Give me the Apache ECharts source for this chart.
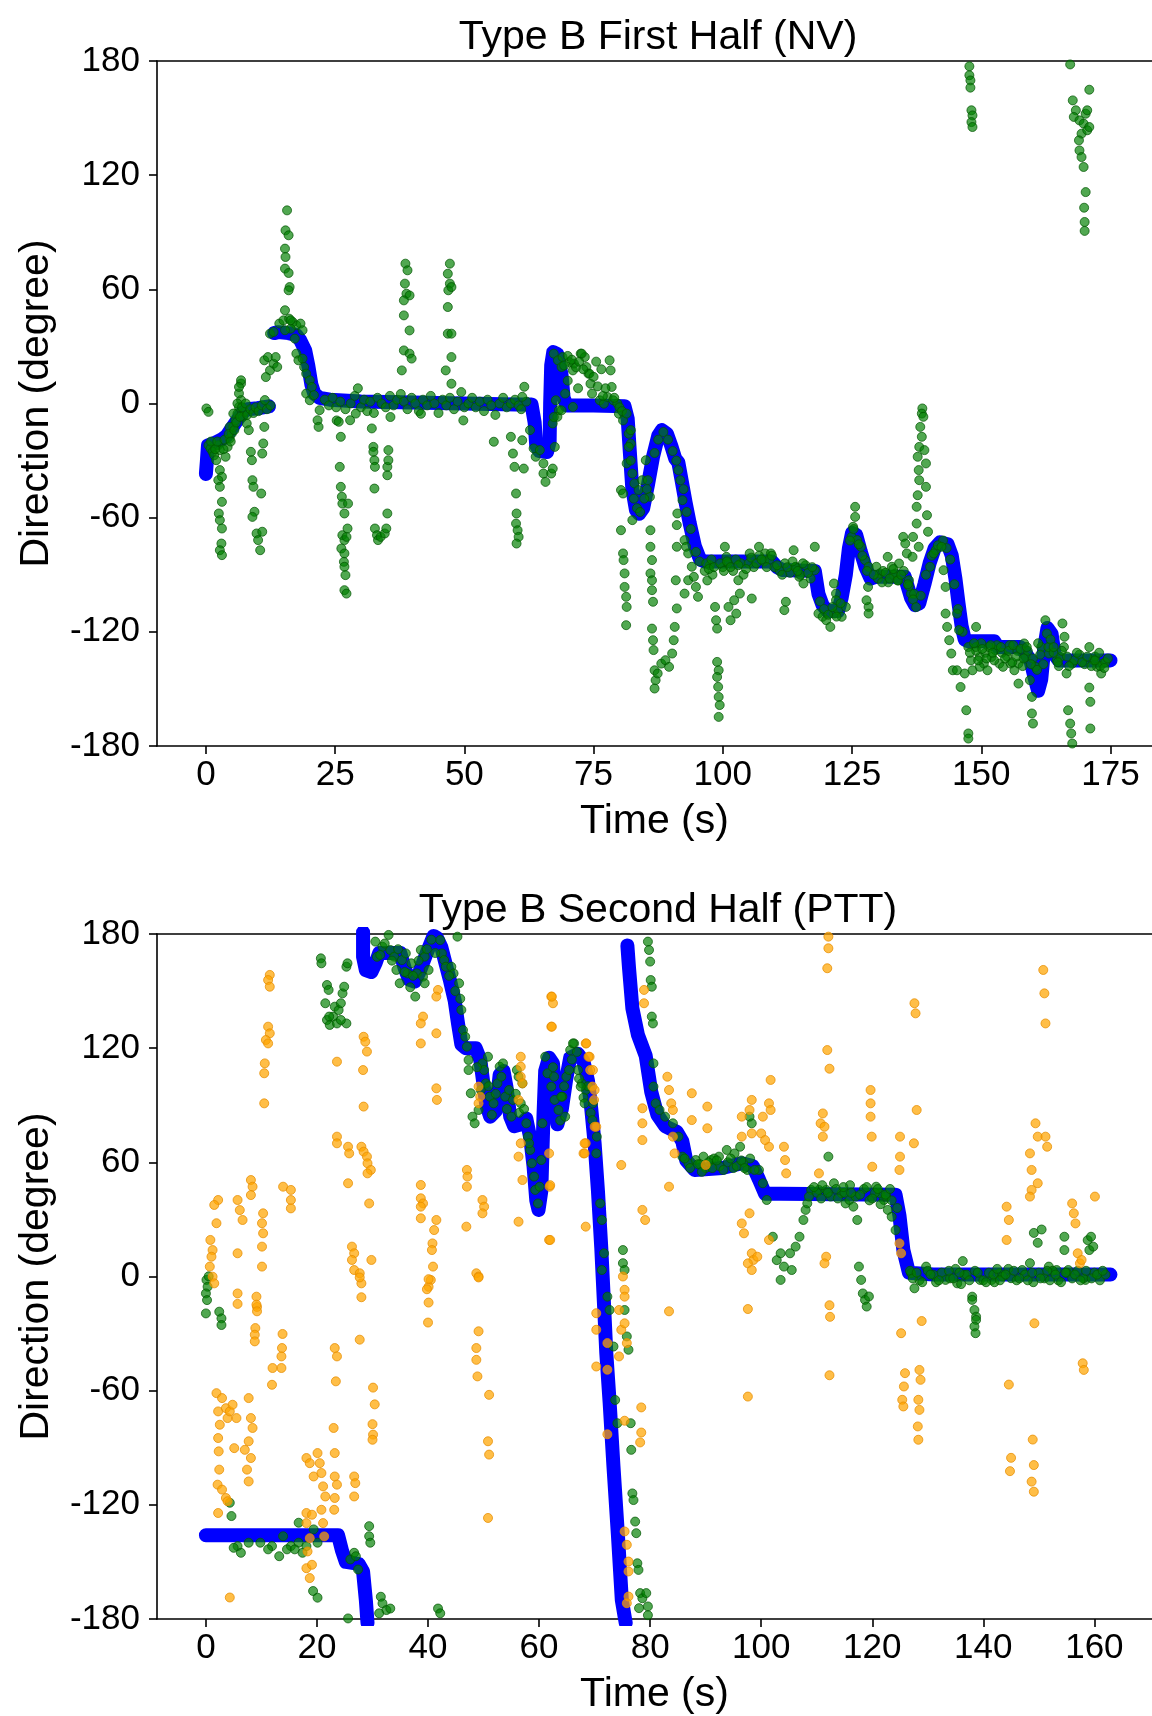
<!DOCTYPE html>
<html>
<head>
<meta charset="utf-8">
<title>Type B Direction</title>
<script src="https://cdn.jsdelivr.net/npm/echarts@6/dist/echarts.min.js"></script>
<style>
  html, body { margin: 0; padding: 0; background: #fff; }
  #chart { width: 1152px; height: 1716px; }
</style>
</head>
<body>
<div id="chart"></div>
<script>
// tick labels
var nvTicks = [0, 25, 50, 75, 100, 125, 150, 175];
var pttTicks = [0, 20, 40, 60, 80, 100, 120, 140, 160];

// blue reference track, first half (segments break where it jumps)
var nvBlue = [
  [[0,-37],[0.2,-30],[0.4,-22],[1.5,-21],[3,-19],[4,-17],[5,-13],[6,-9],[7,-5],[8,-3],[10,-2.5],[12.2,-1.5]],
  [[13.2,37],[14,37.5],[16,37],[17.5,36],[18.3,33],[19.2,28],[19.8,20],[20.4,10],[21,5],[22,3],[24,2],[30,1],[40,0.5],[50,0],[60,-0.5],[63,-0.5],
   [63.6,-10],[63.9,-22],[64.5,-25],[66,-25.5],[66.5,-20],[66.6,0],[66.8,20],[67.2,27],[68,26],[68.8,15],[69.2,3],[69.8,-1],[75,-1],[81,-1.5],
   [81.6,-8],[82,-25],[82.5,-45],[83.2,-56],[83.8,-58],[84.6,-55],[85.5,-43],[86.5,-28],[87.5,-17],[88.2,-14],[89.2,-16],[90,-22],[90.8,-29],[91.4,-31],
   [92,-40],[92.8,-52],[93.6,-63],[94.6,-75],[95.6,-82],[96.5,-83],[103,-83],[109.5,-83],[110.5,-86],[111.5,-87.5],[117.8,-88],
   [118.5,-100],[119.3,-106],[120.2,-109],[122.3,-109],[123,-102],[123.8,-90],[124.4,-76],[125,-68],[125.8,-69],[126.7,-78],[127.6,-86],[128.6,-92],
   [129.7,-91],[135.2,-91],[136.4,-102],[137.2,-106],[138,-105],[139,-95],[140,-84],[141,-76],[142,-73],[143.5,-74],[144.3,-80],[145,-92],
   [145.6,-105],[146.2,-117],[146.8,-124],[147.5,-125],[152.5,-125],[153.2,-128],[157.5,-128],[158.5,-131],[159.5,-135],[160.4,-145],[161,-151],
   [161.6,-145],[162.2,-128],[162.8,-118],[163.6,-121],[164.2,-132],[165,-135],[175,-135]]
];

// green estimates, first half
var nvGreen = [
  [0.1,-2.6],[0.5,-4.4],[0.5,-21.9],[0.9,-23.7],[1.3,-25.4],[1.6,-27.2],[2.0,-29.8],[2.4,-21.9],[2.7,-24.5],
  [2.7,-35],[3.1,-38.5],[2.4,-40.3],[2.7,-43.8],[3.1,-51.7],[2.5,-57.8],[2.7,-61.3],[3.1,-65.7],[3.0,-73.6],[2.7,-77.1],[3.1,-79.7],
  [3.8,-28],[4.2,-22.8],[4.6,-18.4],[5.0,-15.8],[5.3,-12.3],[5.7,-8.8],[6.1,-5.3],[6.4,-1.8],[6.8,1.8],[6.4,5.3],[7.2,-7],[7.5,-4.4],
  [7.9,-10.5],[8.3,-14],[4.6,-12.3],[5.3,-5.3],[6.1,0],[6.8,10.5],[6.8,12.2],[6.4,8.7],
  [1,-20],[1.8,-24],[2.2,-20],[3.4,-24],[3.6,-19],[4.4,-16],[4.8,-20],[5.5,-14],[5.9,-10],[6.6,-7],[7,-2],[7.7,0],[8,-6],[8.6,-3],
  [9.2,-5],[9.6,-2],[10.2,-4],[10.8,-1],[11.8,-3],[12.5,-1],
  [8.7,-25.4],[8.9,-29.8],[9.0,-40.3],[9.2,-43.8],[9.4,-56.9],[9.0,-59.6],[9.8,-68.3],[10.1,-71.8],[10.5,-77.1],[10.9,-67.4],[10.7,-47.3],
  [10.9,-26.3],[11.1,-21],[11.3,-12.3],[11.4,1.8],
  [11.3,22.7],[12.0,24.4],[12.4,17.4],[13.1,20.9],[13.5,24.4],[13.8,19.2],[11.6,13.9],
  [12.4,36.7],[13.1,37.6],[14.2,42],[15.0,43.7],[16.1,44.6],[16.8,42.8],[17.5,41.1],[18.3,42],[18.7,38.5],[16.4,39.3],[15.3,38.5],
  [15.7,101.5],[15.4,91],[16.0,88.4],[15.3,81.4],[15.4,77],[15.3,70.9],[16.0,68.6],[16.2,61.2],[16.0,59.5],[15.3,49],[16.4,43.7],
  [17.2,34.1],[17.5,26.2],[17.9,22.7],[18.7,23.6],[19.0,19.2],[19.4,15.7],[20.1,12.2],[20.5,8.7],[19.4,5.2],[20.1,1.7],[20.9,4.4],
  [21.6,-8.8],[21.8,-12.3],[22.0,-3.5],
  [23,2],[23.8,-1],[24.5,3],[25.2,-2],[26,1],[27,-3],[28,0],[28.8,4],[29.4,8],[30,-2],[30.6,2],[31.2,-4],[31.8,1],[32.5,-5],[33.2,3],
  [34,0],[34.8,-2],[35.6,4],[36.3,-1],[37,2],[37.7,5],[38.3,1],[39,-3],[39.8,3],[40.5,0],[41.2,-4],[42,2],[42.8,-1],[43.5,4],[44.2,0],
  [45,-5],[45.8,2],[46.5,-1],[47.2,3],[48,-3],[48.7,1],[49.4,6],[50,-2],[50.8,0],[51.5,3],[52.2,-2],[53,1],[53.8,-4],[54.5,2],[55.2,-1],
  [56,-6],[56.8,0],[57.5,3],[58.2,-2],[59,0],[59.8,2],[60.5,-1],[61,-3],[62,1],
  [49.8,-8.9],[41.6,-5.4],[35.7,-7.1],[25.3,-8.9],
  [25.7,-9.6],[26.1,-17.5],[25.9,-33.3],[26.1,-43.8],[26.3,-49],[26.4,-52.6],[26.8,-57.8],[26.4,-69.2],[26.8,-71.8],[26.2,-76.2],
  [26.8,-78.8],[26.7,-83.2],[26.8,-85.8],[27.0,-90.2],[26.8,-98.1],[27.2,-99.9],[27.2,-70.1],[27.4,-65.7],[27.5,-52.6],[27.9,-8.8],[29.0,-5.3],
  [32.1,-13.1],[32.4,-22.8],[32.4,-25.4],[32.6,-29.8],[32.7,-33.3],[32.6,-44.7],[32.7,-65.7],[33.1,-69.2],[33.3,-71.8],[33.8,-70.1],
  [34.6,-68.3],[34.9,-65.7],[35.1,-57.8],[35.1,-37.7],[35.1,-33.3],[35.3,-29.8],[35.3,-24.5],
  [38.6,73.5],[39.0,70],[38.5,63],[38.8,57.7],[39.4,56.8],[38.3,54.2],[38.3,46.3],[39.4,38.4],[38.3,27.9],[39.4,26.2],[39.8,23.6],[37.9,17.4],
  [47.2,73.5],[46.8,68.2],[47.2,63],[46.9,59.5],[47.5,61.2],[46.8,50.7],[46.8,36.7],[47.5,36.7],[47.5,24.4],[46.4,17.4],[47.5,10.4],
  [55.7,-20.1],[59.0,-17.5],[59.4,-26.3],[59.7,-33.3],[60.0,-47.3],[60.1,-57.8],[60.0,-63.1],[60.3,-66.6],[60.5,-70.1],[60.1,-73.6],
  [61.2,-19.3],[61.5,-34.2],[61.6,8.8],[61.2,3.5],[62.7,-14],[63.4,-23.6],[63.8,-28],[64.6,-24.5],[65.3,-31.5],[65.3,-36.8],[65.7,-41.2],
  [66.8,-36.8],[67.1,-34.2],[67.5,-22.8],[67.1,-10.5],[68.3,-3.5],[68.0,-7],
  [67.3,26.2],[68.1,22.7],[68.8,19.2],[70.3,21.8],[71.0,17.4],[72.5,26.2],[73.3,24.4],[73.6,19.2],[74.0,15.7],[74.4,10.4],[74.7,5.2],
  [71.0,-1.8],[69.5,5.2],[76.2,1.7],[77.0,-0.1],[77.7,3.4],[78.1,22.7],[78.3,17.4],[78.5,8.7],[78.8,1.7],[79.6,0],[79.9,-5.4],[80.7,-8.9],
  [81.8,-15.9],[82.2,-21.1],[67.7,1.7],[67.3,-7.1],[68.8,-3.6],[69.0,24.4],[71.2,21],[72.7,26.2],[74.2,15.7],[75.5,22],[76.5,18],[70,12],[72,8],
  [69.3,20],[70,25],[70.8,23],[71.6,19],[72.2,22],[73,18],[75,14],[75.8,9],[76.8,4],[77.3,8],[79,3],[80,-2],[80.5,-4],
  [80.3,-45.5],[80.7,-47.3],[80.3,-66.6],[80.7,-78.8],[80.8,-82.3],[81.0,-89.3],[81.0,-96.4],[81.3,-101.6],[81.4,-106.9],[81.3,-116.5],
  [81.4,-31.5],[81.8,-22.8],[82.2,-14],[81.4,-5.3],[82.5,-36.8],[82.9,-42],[82.5,-61.3],[83.7,-45.5],[84.4,-40.3],[85.1,-29.8],[85.5,-40.3],
  [85.9,-49],[86.0,-66.6],[86.0,-75.3],[86.3,-82.3],[86.0,-89.3],[86.3,-92.9],[86.3,-98.1],[86.5,-104.2],[86.3,-118.3],[86.5,-124.4],
  [86.6,-129.6],[86.8,-140.2],[87.0,-145.4],[86.8,-149.8],[87.4,-141.9],[88.1,-136.7],[88.9,-134.9],[89.6,-138.4],[90.2,-131.4],[90.5,-124.4],
  [90.7,-117.4],[91.1,-107.7],[90.9,-92.9],[91.1,-75.3],[91.1,-63.9],[91.2,-57.8],[91.4,-35],[91.8,-40.3],[92.2,-50.8],[92.6,-71.8],
  [92.9,-75.3],[93.3,-78.8],[92.6,-99.9],[93.3,-92.9],[94.0,-85.8],[94.4,-91.1],[94.8,-96.4],[95.2,-101.6],
  [82.2,-30],[82.8,-50],[83.4,-55],[84,-57],[84.8,-50],[85.3,-45],[86.8,-26],[87.5,-19],[88.5,-15],[89.4,-19],[90.3,-25],[91,-30],
  [92.4,-45],[93,-57],[93.8,-66],[94.8,-78],[95.5,-83],
  [98.5,-106.9],[98.7,-113.9],[98.9,-118.3],[98.9,-135.8],[99.2,-140.2],[98.9,-143.7],[99.1,-148.9],[99.2,-154.2],[99.4,-158.5],[99.2,-164.7],
  [100.4,-75.3],[100.7,-80.6],[101.1,-106.9],[101.5,-113.9],[102.2,-103.4],[102.6,-110.4],[103.0,-92.9],[103.3,-99.9],[105.2,-78.8],
  [105.6,-102.5],[107.0,-75.3],[108.2,-78.8],[109.3,-78.8],[111.9,-108.6],[112.2,-104.2],[113.7,-77.1],[114.1,-85.8],[114.8,-91.1],
  [115.6,-94.6],[117.8,-75.3],[117.8,-87.6],
  [96.5,-88],[97,-93],[97.5,-85],[98,-90],[100,-86],[101,-84],[102,-88],[103.5,-84],[104,-90],[105,-84],[106,-86],[107,-80],[108,-83],
  [109,-82],[110,-86],[111,-88],[112,-84],[113,-89],[114,-86],[115,-90],[116,-85],[117,-92],
  [96.8,-84],[97.3,-87],[97.8,-82],[98.3,-86],[99.5,-84],[100.2,-88],[100.8,-83],[101.5,-86],[102.5,-82],[103,-85],[104.5,-87],[105.5,-81],
  [106.5,-84],[107.5,-82],[108.5,-86],[109.5,-80],[110.5,-85],[111.5,-90],[112.5,-86],[113.5,-83],[114.5,-88],[115.5,-84],[116.5,-89],[117.3,-86],
  [118.5,-110.4],[119.3,-112.1],[120.0,-113.9],[120.8,-117.4],[121.5,-110.4],[122.3,-108.6],[123.0,-112.1],[121.5,-94.6],[121.9,-99.9],
  [121.9,-103.4],[123.8,-106.9],
  [118.8,-104],[119.6,-108],[120.4,-111],[121.2,-107],[122,-112],[122.8,-105],
  [125.6,-54.3],[125.6,-59.6],[125.2,-64.8],[124.9,-70.1],[126.0,-71.8],[126.7,-75.3],[127.5,-82.3],[128.2,-85.8],[128.1,-96.4],
  [128.2,-106.9],[128.2,-110.4],[127.8,-103.4],
  [124.6,-72],[125.3,-66],[126.3,-74],[127,-80],[127.9,-88],
  [129.7,-85.8],[130.4,-89.3],[131.9,-80.6],[132.7,-85.8],[133.4,-89.3],[134.1,-84.1],[134.9,-70.1],[135.3,-73.6],[135.6,-78.8],
  [136.0,-92.9],[136.4,-99.9],[136.7,-80.6],
  [130,-92],[131,-88],[132,-94],[133,-90],[134,-93],[135,-88],[136,-96],[137,-100],
  [129.2,-90],[130.8,-94],[131.5,-89],[132.3,-92],[133,-87],[133.8,-93],[134.5,-90],[135.8,-95],[136.8,-103],[137.4,-107],[138.3,-101],
  [139.3,-90],[140.4,-80],[141.2,-77],[142.6,-72],[143.3,-76],[144,-82],[144.8,-95],[145.5,-108],[146.4,-120],
  [138.6,-2.6],[138.5,-5.3],[138.8,-7],[138.2,-12.3],[138.5,-17.5],[138.0,-22.8],[139.0,-24.5],[137.7,-28],[139.3,-31.5],[137.9,-35],
  [138.0,-40.3],[139.3,-43.8],[137.7,-48.2],[137.5,-54.3],[139.5,-58.7],[137.5,-63.1],[139.7,-67.4],[136.8,-70.1],[137.9,-75.3],
  [140.1,-85.8],[140.8,-78.8],[141.6,-74.5],[142.3,-75.3],[142.7,-87.6],[143.1,-96.4],[143.1,-110.4],[143.4,-117.4],[143.8,-124.4],
  [144.2,-131.4],[144.5,-140.2],[145.3,-110.4],[145.7,-119.1],
  [147.1,-161.2],[147.5,-173.4],[147.5,-176.1],[149.0,-117.4],[149.0,-128],[149.7,-133.2],[150.5,-136.7],[151.2,-140.2],[152.0,-133.2],
  [152.7,-129.6],[153.5,-136.7],[154.2,-138.4],[155.7,-136.7],[156.4,-140.2],[157.2,-147.2],[157.2,-136.7],[158.3,-126.1],[158.6,-133.2],
  [159.4,-145.4],[159.8,-154.2],[159.8,-162.9],[160.0,-168.2],[160.5,-138.4],[161.6,-128],[162.4,-113.9],[162.7,-120.9],[163.1,-131.4],
  [164.6,-134.9],[165.3,-133.2],[165.7,-115.6],[166.1,-122.6],[166.5,-141.9],[166.8,-161.2],[167.2,-168.2],[167.4,-173.4],[167.6,-178.7],
  [167.6,-136.7],[170.9,-128],[170.9,-149.3],[171.1,-156.8],[171.1,-170.8],[171.7,-134.9],[172.4,-138.4],[173.2,-141.9],[173.5,-136.7],
  [149.7,-138.4],[148.3,-140.2],[145.3,-140.2],[146.0,-149],[146.8,-141.9],
  [147.5,-128],[148,-135],[149,-130],[150,-126],[150.8,-131],[151.5,-128],[152.5,-135],[153,-127],[154,-131],[155,-133],[155.5,-127],
  [156,-136],[157,-130],[158,-138],[159,-130],[160,-134],[161,-126],[162,-137],[163,-128],[164,-131],[165,-138],[166,-128],[168,-135],
  [169,-132],[170,-137],[172,-133],[173,-138],[174,-136],
  [147.8,-131],[148.6,-126],[149.4,-135],[150.2,-129],[151,-134],[151.8,-127],[152.2,-131],[153.8,-128],[154.6,-134],[155.3,-130],
  [156.2,-127],[156.8,-133],[157.6,-129],[158.2,-134],[158.8,-128],[159.6,-137],[160.8,-140],[161.4,-132],[163.4,-124],[164,-128],
  [164.8,-136],[165.6,-130],[166.6,-133],[167,-138],[168.5,-131],[169.5,-136],[170.5,-133],[171.3,-138],[172,-135],[172.8,-131],
  [173.8,-139],[174.5,-134],
  [147.7,177.2],[147.7,172.5],[147.9,169.8],[147.9,166],[148.1,154.1],[148.3,151.4],[148.1,147.9],[148.3,145.3],
  [167.2,178.2],[170.9,164.9],[167.7,159.3],[168.3,154.1],[167.9,150.6],[169.0,148.8],[170.2,152.3],[170.5,154.1],[169.8,147.1],
  [169.4,141.8],[168.9,138.3],[170.5,143.6],[170.9,145.3],[169.0,133],[169.4,129.5],[169.8,124.3],[170.2,111.1],[169.9,102.9],
  [170.0,95.4],[170.0,90.7]
];

// blue reference track, second half
var pttBlue = [
  [[0,-136],[23.8,-136],[24.5,-144],[25.2,-150],[27.5,-151],[28.3,-155],[28.8,-170],[29.1,-182]],
  [[28.3,181],[28.3,168],[28.8,161],[29.8,160],[30.6,165],[31.2,170],[35,170],[35.8,162],[36.6,156],[37.6,155],[38.6,161],[39.5,168],
   [40.3,174],[41,179],[41.6,178],[42.4,173],[43.2,164],[44,155],[44.8,145],[45.4,133],[46,122],[46.8,120],[48.6,120],[49.4,114],
   [49.9,103],[50.5,90],[51.2,84],[52.2,87],[52.9,106],[53.6,108],[54.1,100],[54.8,84],[55.5,79],[56.8,80],[57.7,83],[58.4,73],[59,58],
   [59.5,40],[59.9,35],[60.4,45],[60.8,85],[61.1,108],[61.8,115],[62.5,112],[62.9,92],[63.3,80],[64.1,88],[64.9,104],[65.6,115],[67,117],
   [68,113],[68.8,103],[69.4,88],[70,70],[70.6,45],[71.2,15],[71.7,-15],[72.1,-40],[72.7,-66],[73.4,-100],[74.2,-136],[74.9,-170],[75.6,-182]],
  [[75.9,174],[76.2,162],[76.8,141],[77.8,127],[79.2,116],[80.2,97],[81.3,85],[82.7,79],[84.8,76],[85.8,71],[86.5,61],[88,56],[93,57],
   [96.5,59.5],[98.5,58],[99.6,51],[100.7,43.5],[103.5,43.5],[124.2,43],[124.9,32],[125.6,14],[126.6,2],[131,1],[162.9,1]]
];

// green estimates, second half
var pttGreen = [
  [0.1,-1.8],[0.3,-5.4],[0,-8.9],[0.5,0.1],[0.2,-12.4],[0,-19.4],[2.4,-18.5],[2.8,-22],[2.8,-25.5],
  [20.7,167.2],[20.8,164.6],[21.8,153.2],[22.1,150.6],[21.5,143.6],[21.8,134.8],[22.3,132.2],[22.9,136.6],[23.2,141.8],[23.6,133],
  [23.9,140],[24.3,143.6],[24.6,148.8],[24.9,152.3],[25.3,133],[25.3,162.8],[25.5,164.6],[22.2,136.6],[24.3,134.8],
  [30.5,176],[30.8,168],[31.8,173.3],[32.9,179.5],[33.2,171.6],[33.9,168.1],[34.3,161.1],[34.9,154.1],[35.3,166.3],[36.0,169.8],
  [36.3,159.3],[37.0,164.6],[37.7,147.1],[38.0,159.3],[38.7,171.6],[39.1,157.6],[39.4,168.1],[39.4,154.1],[40.1,161.1],[42.2,176.8],
  [42.5,169.8],[42.9,166.3],[43.2,162.8],[44.2,162.8],[44.6,159.3],[45.3,178.6],[45.6,154.1],[46.0,140.1],[46.3,129.5],[46.7,126],
  [31.4,169],[32.2,175],[33.5,166],[34.6,172],[35.8,160],[36.8,152],[37.3,158],[38.3,166],[39.8,172],[40.6,177],[41.3,170],[43.8,158],
  [44.9,150],[45.8,146],
  [47.0,120.8],[47.3,113.8],[47.3,108.5],[47.7,96.3],[48.0,84],[48.4,80.5],[49.1,87.5],[49.8,112],[50.1,108.5],[50.4,101.5],[50.8,115.5],
  [51.1,94.5],[51.8,91],[52.5,101.5],[52.9,110.3],[53.2,105],[53.9,94.5],[54.6,98],[55.3,92.8],[56.0,108.5],[56.3,105],[56.7,91],
  [57.0,101.5],[57.7,80.5],[58.0,73.5],[58.4,66.5],[58.7,59.5],[59.1,52.5],[59.3,45.5],[59.8,38.4],[60.1,47.2],[60.4,61.2],[60.6,80.5],
  [61.1,115.5],[61.5,106.8],[62.2,99.8],[62.8,92.8],[63.5,87.5],[64.2,94.5],[64.9,105],[65.6,119],[66.3,122.5],[67.0,108.5],[67.7,101.5],
  [68.4,98],[69.7,91],[70.4,73.5],
  [48.8,110],[49.5,98],[50.9,100],[51.5,85],[52.2,96],[53.5,112],[54.2,88],[55,84],[55.8,96],[56.4,86],[57.3,88],[58.2,70],[62.5,110],
  [63.8,82],[64.5,100],[65.9,114],[66.8,118],[67.2,104],[68,94],[68.8,100],[69.3,86],
  [66.1,122.5],[62.7,105],[64.0,94.5],[64.7,84],[65.4,108.5],[67.5,99.8],[68.2,91],[69.6,82.2],[70.3,64.7],[71.0,38.4],[71.3,29.7],
  [71.7,12.2],[71.3,3.4],[72.3,-10.6],[72.7,-17.6],[75.1,13.9],[75.1,7],[75.4,3.4],[75.4,-17.6],
  [73.4,-36.8],[75.8,-31.5],[76.1,-38.5],[73.7,-64.9],[74.1,-77.1],[76.5,-77.1],[76.6,-91.1],[76.8,-114],[77.0,-117.5],[77.3,-128.8],
  [77.5,-134.9],[77.7,-150.7],[77.9,-154.2],[78.2,-166.4],[78.6,-169.1],[79.3,-166.4],[79.6,-173.4],[78.0,-174.3],[79.6,-178],
  [79.6,176],[79.8,171.6],[80.0,165.5],[80.1,155.8],[80.3,152.3],[80.3,136.6],[80.5,133],[80.6,112],[80.6,99.8],[81.0,91],[81.7,87.5],
  [82.7,84],[84.1,80.5],[85.1,73.5],[85.8,63],[86.9,59.5],[88.2,61.2],[89.6,63],[91.0,61.2],[92.4,63],[93.8,66.5],[95.2,64.7],[96.2,68.2],
  [98.3,80.5],[97.9,84],[99.6,56],[100.3,49],[101.0,40.2],
  [89,59],[90,57],[91.5,62],[92.5,58],[94,60],[95,57],[96.8,60],[97.5,56],
  [86.2,62],[87.2,57],[88.6,59],[89.3,55],[90.5,60],[91.2,57],[92,61],[93.2,56],[94.5,62],[95.6,58],[96.4,61],[97,57],[98,62],[98.8,56],
  [102.1,20.9],[102.8,8.6],[103.5,12.2],[103.5,-1.8],[104.1,5.2],[105.2,12.2],[105.5,3.4],[106.2,15.7],[106.9,20.9],[107.6,29.7],
  [108.0,35],[108.3,38.4],[109.0,45.5],[110.4,45.5],[111.7,45.5],[113.1,49],[114.5,43.7],[115.2,38.4],[115.9,40.2],[116.6,36.7],
  [117.3,29.7],[117.6,5.2],[118.0,-1.8],[118.3,-8.9],[118.7,-12.3],[119.0,-15.8],[120.7,47.2],[121.4,43.7],[122.1,40.2],[122.8,35],
  [123.5,31.4],[124.2,24.4],[112.1,63],[119.4,-10.5],
  [110,44],[111,48],[112.5,42],[113.5,46],[115,44],[116,48],[117,42],[118.5,46],[119.5,40],[120.5,44],[121.5,38],[122.5,42],[123.5,40],[124.5,36],
  [108.6,42],[109.5,47],[110.8,41],[112,44],[113.8,41],[114.8,47],[116.2,44],[117.8,43],[119,47],[120,41],[121,46],[122.4,43],[123.2,46],
  [127,1.7],[127.6,-6.2],[129.7,5.2],[131.1,0.8],[133.2,-1.8],[135.3,-3.6],[136.3,8.1],[136.6,0.8],[138.0,-10.6],[138.4,-17.6],[138.7,-21.1],
  [139.4,-1.8],[141.5,-1.8],[142.9,1.7],[145.0,-0.9],[147.0,3.4],[148.4,7],[149.1,22.9],[150.5,24.7],[149.8,17.7],[151.8,5.2],[153.2,3.4],
  [154.6,20.9],[154.6,13.9],[155.3,3.4],[158.8,19.1],[159.1,13.9],[159.4,20.9],[159.8,15.7],[158.4,-1.8],
  [138.0,-12.3],[138.7,-22.8],[138.4,-26.3],[138.6,-29.8],
  [128.5,-2],[130,3],[131.5,-3],[132.5,2],[134,-1],[135,4],[136,-4],[137,1],[138.5,3],[140,-2],[141,2],[142,-3],[143.5,0],[144.5,4],
  [146,-2],[147.5,1],[149,-3],[150,2],[151,-1],[152.5,3],[153.5,-2],[155,2],[156,-1],[157,3],[158,-1],[160,2],[161,-2],[162,1],
  [126.8,3],[127.3,-1],[128,2],[129,-3],[130.5,1],[132,-2],[133.8,3],[134.6,-1],[135.7,2],[137.5,-2],[139,2],[140.5,-3],[141.8,1],
  [142.5,4],[143,-2],[144,1],[145.5,3],[146.5,-1],[148,-2],[148.8,2],[150.3,-1],[151.5,3],[152,-2],[153,1],[154,-3],[154.8,2],
  [156.5,1],[157.5,-2],[158.5,3],[159.5,-1],[160.5,1],[161.5,3],
  [4.3,-118.9],[4.6,-125.9],[5.7,-141.7],[6.3,-145.2],[9.8,-139.9],[11.9,-141.7],[13.2,-147],[13.9,-136.5],[15.3,-141.7],[16.7,-139.9],
  [16.7,-129.4],[17.4,-145.2],[19.4,-132.9],[20.1,-139.9],[19.3,-165.3],[20.1,-168.8],[5.0,-142.6],[7.7,-139.9],[11.2,-143.4],
  [14.6,-143.4],[16.0,-143.4],[18.1,-141.7],[25.6,-179.7],
  [26.0,-148.7],[26.7,-145.2],[27.4,-154],[27.0,-147],[29.4,-131.2],[29.4,-136.5],[29.6,-139.9],
  [31.5,-168.3],[31.8,-171.8],[32.5,-175.3],[33.2,-174.5],[31.2,-177],[41.8,-174.5],[42.2,-177]
];

// orange estimates, second half
var pttOrange = [
  [11.5,158.5],[11.2,155.8],[11.5,152.3],[11.2,131.3],[11.5,127.8],[10.8,124.3],[11.2,122.5],[10.6,112],[10.5,106.8],[10.5,91],
  [23.6,112.9],[28.4,126],[28.7,123.4],[29.0,118.2],[28.3,108.5],[28.4,89.3],
  [23.6,73.5],[23.6,70],[25.6,68.2],[25.8,64.7],[28.0,68.2],[28.4,65.6],[29.0,63],[29.1,59.5],[29.7,56],[29.1,54.2],[25.6,49],[29.4,38.4],
  [41.8,150.6],[41.5,147.1],[39.1,136.6],[38.7,133],[41.5,127.8],[38.7,122.5],[41.5,98.9],[41.6,92.8],
  [62.2,147.1],[62.5,143.6],[62.2,131.3],[68.4,122.5],[69.1,115.5],[69.7,108.5],[70.0,98],
  [49.1,99.8],[49.4,94.5],[49.1,91],[56.7,115.5],[56.7,110.3],[56.7,105],[56.3,92.8],[57.0,101.5],
  [56.7,70],[56.3,63],[57.0,50.7],[56.3,28.8],[61.8,64.7],[61.9,47.2],[61.8,19.2],[68.4,70],[68.0,64.7],[68.4,26.2],[70.0,78.7],
  [47.0,56],[47.1,52.5],[47.0,47.2],[46.9,26.2],[49.8,40.2],[50.1,36.7],[49.8,33.2],
  [38.7,48.1],[38.7,41.1],[39.1,38.4],[38.7,36.7],[38.7,30.6],[41.5,29.7],[41.1,24.4],[40.8,17.4],[40.7,13.9],[40.9,5.2],[40.5,-1.8],[40.1,-5.4],
  [48.7,1.7],[49.1,0],
  [26.3,15.7],[26.7,12.2],[26.3,8.7],[26.7,3.4],[27.7,1.7],[29.8,8.7],[28.0,-3.6],
  [13.9,47.2],[15.3,45.5],[15.3,40.2],[15.3,35.8],[8.1,50.7],[8.4,47.2],[8.1,42.8],[5.7,40.2],[6.1,34.9],[6.6,29.7],[2.2,40.2],[1.5,37.6],
  [1.9,28],[0.8,19.2],[1.2,13.9],[1.0,10.4],[0.7,5.2],[1.2,-0.1],[1.5,-3.6],[5.7,12.2],[5.7,-8.9],[10.3,33.2],[10.1,28],[10.3,22.7],
  [10.1,15.7],[10.1,5.2],[9.1,-10.6],[9.2,-16],
  [9.1,-14.8],[9.2,-18.3],[8.9,-27.1],[8.8,-30.6],[8.8,-34.1],[13.8,-30.2],[13.7,-37.6],[13.6,-42],[13.6,-48.1],[12.0,-48.1],[11.9,-56.9],
  [5.7,-14.4],[1.9,-61.3],[2.9,-63.9],[2.2,-70.9],[2.5,-77.9],[2.2,-84.9],[2.3,-91.9],[2.4,-101.5],[2.1,-109.4],[2.9,-112],[3.6,-116.4],
  [3.9,-118.1],[2.2,-124.3],[3.6,-69.2],[3.9,-74.4],[4.3,-70.9],[4.8,-67.4],[5.5,-74.4],[5.1,-90.2],[7.0,-91.1],[7.7,-63.9],[8.1,-74.4],
  [8.4,-79.6],[7.7,-86.6],[8.1,-95.4],[7.4,-101.5],[7.7,-107.7],[4.3,-168.7],
  [18.1,-95.4],[18.7,-98.1],[19.4,-105.1],[20.1,-92.8],[20.5,-98.1],[20.8,-103.3],[21.1,-110.3],[21.5,-115.6],[20.8,-122.6],[21.1,-129.6],
  [21.3,-136.6],[18.1,-124.3],[19.1,-125.2],[18.1,-129.6],[18.7,-137.5],[18.3,-144.5],[18.1,-153.3],[18.7,-158.5],[19.1,-151.5],
  [23.2,-37.6],[23.6,-42],[23.4,-55.1],[23.0,-79.6],[23.2,-92.8],[23.2,-105.1],[23.6,-109.4],[23.2,-116.4],[23.1,-122.6],
  [26.7,-105.1],[26.9,-108.6],[26.7,-115.6],[27.7,-33.2],[30.1,-58.4],[30.4,-67.2],[30.0,-77.6],[30.1,-83.1],[30.0,-85.8],
  [40.1,-1.4],[39.8,-6.7],[40.1,-13.7],[40.0,-24.2],
  [49.1,-0.5],[48.7,-37.6],[49.1,-28.8],[48.7,-43.8],[48.9,-52.5],[51.0,-62.2],[50.8,-86.6],[51.0,-93.6],[50.8,-126.9],
  [27.7,-0.5],[28.0,-10.9],
  [62.3,147.1],[62.3,131.3],[78.9,150.6],[78.9,143.6],[68.5,122.5],[68.9,115.5],[69.2,108.5],[69.6,99.8],[69.9,92.8],[70.3,78.7],
  [68.2,70],[68.2,64.7],[74.8,58.6],[112.1,178.6],[112.1,172.5],[111.9,162],[111.9,119],[112.3,109.2],[83.1,105],[83.4,98],[83.8,91],
  [84.1,87.5],[84.1,73.5],[84.4,64.7],[83.4,47.2],[87.5,96.3],[87.5,82.2],[90.3,89.3],[90.3,77.9],[90.0,58.6],[78.6,88.4],[78.6,80.5],
  [78.6,71.7],[78.6,35],[79.1,29.7],
  [101.7,103.3],[101.4,91],[101.7,87.5],[101.4,68.2],[98.3,92.8],[97.9,87.5],[98.3,75.2],[96.5,84],[96.5,73.5],[100.0,75.2],[100.3,84],
  [100.7,71.7],[104.1,68.2],[104.3,61.2],[104.5,54.2],[110.4,54.2],[110.7,80.5],[111.1,85.7],[111.4,78.7],[111.1,73.5],[119.7,98],
  [119.7,91],[119.7,84],[119.9,73.5],[120.0,57.7],[125.0,73.5],[125.0,63],[124.9,56],[127.6,143.6],[127.8,138.3],[128.0,87.5],[127.5,70],
  [150.8,161.1],[151.0,148.8],[151.2,133],[149.4,80.5],[149.8,73.5],[151.2,73.5],[151.5,68.2],[148.4,64.7],[148.7,56],[149.8,49],
  [148.7,45.5],[148.4,42],[156.0,38.4],[156.3,33.2],[156.6,27.9],[157.0,12.2],[157.4,6.9],[160.1,42],[144.2,36.7],[144.6,29.7],[144.2,19.2],
  [62,48],[62,19.2],
  [97.9,33.2],[96.5,27.9],[96.9,22.7],[98.3,12.2],[98.6,8.7],[99.3,10.4],[101.4,19.2],[97.6,6.9],[98.3,3.4],[111.7,10.4],[111.4,6.9],
  [75.1,0],[75.4,-7],[124.9,17.4],[125.2,12.2],[157.7,8.7],
  [70.3,-19.3],[70.3,-28],[70.3,-47.3],[72.3,-35],[72.3,-49],[74.4,-17.6],[74.8,-28],[74.4,-42],[75.4,-10.6],[75.4,-24.6],[75.8,-35],
  [72.3,-82.9],[75.4,-75.8],[78.4,-68.8],[78.4,-82],[78.2,-87.2],[75.4,-134],[75.8,-141],[76.1,-149.8],[76.1,-155],[76.1,-168.2],
  [75.8,-171.7],[83.4,-18.3],[97.6,-17.1],[97.6,-63.1],[112.3,-15.1],[112.4,-21.2],[112.3,-51.9],[125.2,-29.8],[128.9,-23.4],
  [125.9,-50.8],[125.7,-57.8],[125.4,-64.8],[125.6,-68.3],[128.5,-49.1],[128.7,-54.3],[128.3,-64.8],[128.5,-70.1],[128.2,-78.8],
  [128.3,-85.8],[144.6,-56.8],[145.0,-95.3],[144.8,-102.3],[148.9,-85.7],[149.1,-99.1],[148.7,-107.8],[149.1,-113.1],[157.9,-45.6],
  [158.1,-49.1],[149.2,-24.6]
];

var font = '"Liberation Sans", Arial, Helvetica, sans-serif';
var ink = '#000';

function bottomAxis(grid, min, max, ticks) {
  return {
    gridIndex: grid, type: 'value', min: min, max: max,
    axisLine: { onZero: false, lineStyle: { color: ink, width: 1.6 } },
    axisTick: { show: true, length: 8, customValues: ticks, lineStyle: { color: ink, width: 1.6 } },
    axisLabel: { customValues: ticks, fontSize: 35, color: ink, margin: 12, fontFamily: font },
    splitLine: { show: false },
    name: 'Time (s)', nameLocation: 'middle', nameGap: 55,
    nameTextStyle: { fontSize: 41, color: ink, fontFamily: font }
  };
}
function topBorder(grid, min, max) {
  return {
    gridIndex: grid, type: 'value', position: 'top', min: min, max: max,
    axisLine: { onZero: false, lineStyle: { color: ink, width: 1.6 } },
    axisTick: { show: false }, axisLabel: { show: false }, splitLine: { show: false }
  };
}
function dirAxis(grid) {
  return {
    gridIndex: grid, type: 'value', min: -180, max: 180, interval: 60,
    axisLine: { show: true, onZero: false, lineStyle: { color: ink, width: 1.6 } },
    axisTick: { show: true, length: 8, lineStyle: { color: ink, width: 1.6 } },
    axisLabel: { fontSize: 35, color: ink, margin: 17, fontFamily: font },
    splitLine: { show: false },
    name: 'Direction (degree)', nameLocation: 'middle', nameGap: 100,
    nameTextStyle: { fontSize: 41, color: ink, fontFamily: font }
  };
}

function blueLines(segs, xi, yi) {
  return segs.map(function (seg) {
    return {
      type: 'line', xAxisIndex: xi, yAxisIndex: yi, data: seg, symbol: 'none', z: 1, silent: true,
      lineStyle: { color: '#0000ff', width: 14, cap: 'round', join: 'round' }
    };
  });
}
function dots(data, xi, yi, fill, edge, z) {
  return {
    type: 'scatter', xAxisIndex: xi, yAxisIndex: yi, data: data, symbolSize: 9, z: z, silent: true,
    itemStyle: { color: fill, borderColor: edge, borderWidth: 1 }
  };
}

var chart = echarts.init(document.getElementById('chart'));
chart.setOption({
  animation: false,
  backgroundColor: '#fff',
  grid: [
    { left: 157, top: 61, width: 995, height: 685 },
    { left: 157, top: 934, width: 995, height: 685 }
  ],
  xAxis: [
    bottomAxis(0, -9.46, 183.03, nvTicks),
    topBorder(0, -9.46, 183.03),
    bottomAxis(1, -8.81, 170.38, pttTicks),
    topBorder(1, -8.81, 170.38)
  ],
  yAxis: [dirAxis(0), dirAxis(1)],
  graphic: [
    { type: 'text', x: 658, y: 17, style: { text: 'Type B First Half (NV)', font: '41px ' + font, fill: ink, align: 'center', textAlign: 'center', verticalAlign: 'top', textVerticalAlign: 'top' } },
    { type: 'text', x: 658, y: 890, style: { text: 'Type B Second Half (PTT)', font: '41px ' + font, fill: ink, align: 'center', textAlign: 'center', verticalAlign: 'top', textVerticalAlign: 'top' } }
  ],
  series: [].concat(
    blueLines(nvBlue, 0, 0),
    [dots(nvGreen, 0, 0, 'rgba(0,128,0,0.85)', 'rgba(0,85,0,0.9)', 2)],
    blueLines(pttBlue, 2, 1),
    [dots(pttGreen, 2, 1, 'rgba(0,128,0,0.85)', 'rgba(0,85,0,0.9)', 2),
     dots(pttOrange, 2, 1, 'rgba(255,165,0,0.9)', 'rgba(230,140,0,0.95)', 3)]
  )
});
</script>
</body>
</html>
